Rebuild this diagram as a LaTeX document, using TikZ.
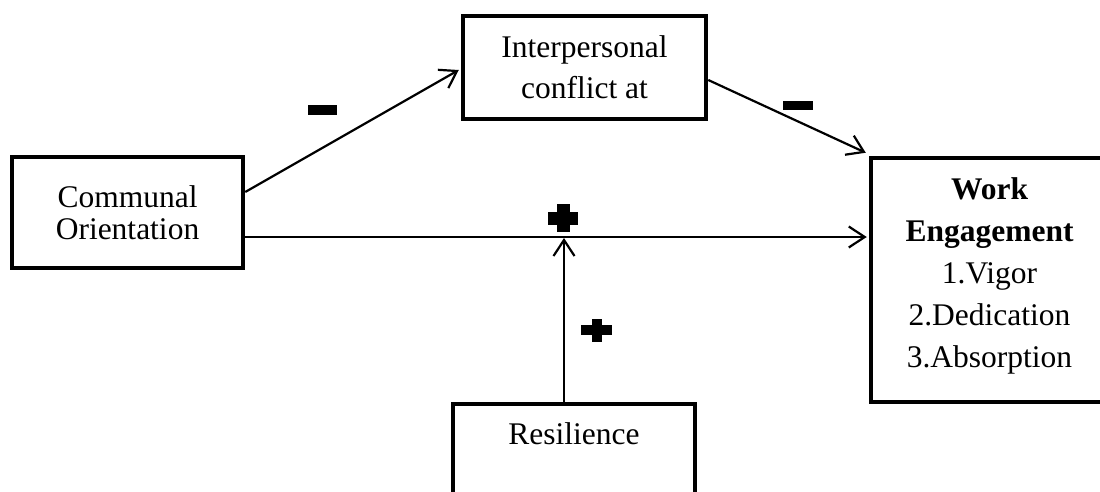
\documentclass[tikz,border=0pt]{standalone}
\usepackage{fontspec}
\setmainfont{Liberation Serif}
\usetikzlibrary{arrows.meta,calc}
\newcommand\myplus[5]{% cx, cy, width, height, arm
  \fill ({#1-#3/2},{#2-#5/2}) rectangle ({#1+#3/2},{#2+#5/2});
  \fill ({#1-#5/2},{#2-#4/2}) rectangle ({#1+#5/2},{#2+#4/2});}
\tikzset{
  box/.style={draw, line width=4.5pt, inner sep=0pt},
  txt/.style={align=center, inner sep=0pt, font=\fontsize{31.5}{41}\selectfont},
  arr/.style={line width=2.2pt, -{Straight Barb[length=16pt,width=21pt]}},
  minussign/.style={fill=black, inner sep=0pt, minimum width=29pt, minimum height=10pt}
}
\begin{document}
\begin{tikzpicture}[x=1pt,y=-1pt]
\useasboundingbox (0,0) rectangle (1100,492);
% boxes
\node[box, minimum width=243pt, minimum height=103pt] (inter) at (584.5,67.5) {};
\node[box, minimum width=231pt, minimum height=111pt] (comm) at (127.5,212.5) {};
\node[box, minimum width=237pt, minimum height=244pt] (work) at (989.5,280) {};
\node[box, minimum width=242pt, minimum height=130pt] (resil) at (574,469) {};
% texts
\node[txt] (intert) at (584.5,67) {Interpersonal\\conflict at};
\node[txt, font=\fontsize{31.5}{32}\selectfont] (commt) at (127.5,213) {Communal\\Orientation};
\node[txt, font=\fontsize{31.5}{42}\selectfont] (workt) at (989.5,276) {\textbf{Work}\\\textbf{Engagement}\\1.Vigor\\2.Dedication\\3.Absorption};
\node[txt] (resilt) at (574,434) {Resilience};
% connectors
\coordinate (a1) at ([yshift=20.5pt]comm.east);
\draw[arr] (a1) -- ([yshift=-2.5pt,xshift=-2pt]inter.west);
\coordinate (a2) at ([yshift=-12.5pt]inter.east);
\draw[arr] (a2) -- ([xshift=-3pt,yshift=3pt]work.north west);
\coordinate (h1) at ([yshift=-24.5pt]comm.east);
\coordinate (h2) at ([xshift=-2pt]h1 -| work.west);
\draw[arr] (h1) -- (h2);
\coordinate (v1) at ([xshift=-10pt]resil.north);
\draw[arr] (v1) -- ([yshift=-1pt]v1 |- h1);
% signs
\node[minussign] (m1) at (322.5,110.5) {};
\node[minussign, minimum width=30pt, minimum height=9pt] (m2) at (798,106) {};
\myplus{563}{218}{30}{28}{13}
\myplus{596.5}{330}{31}{23}{10}
\end{tikzpicture}
\end{document}
